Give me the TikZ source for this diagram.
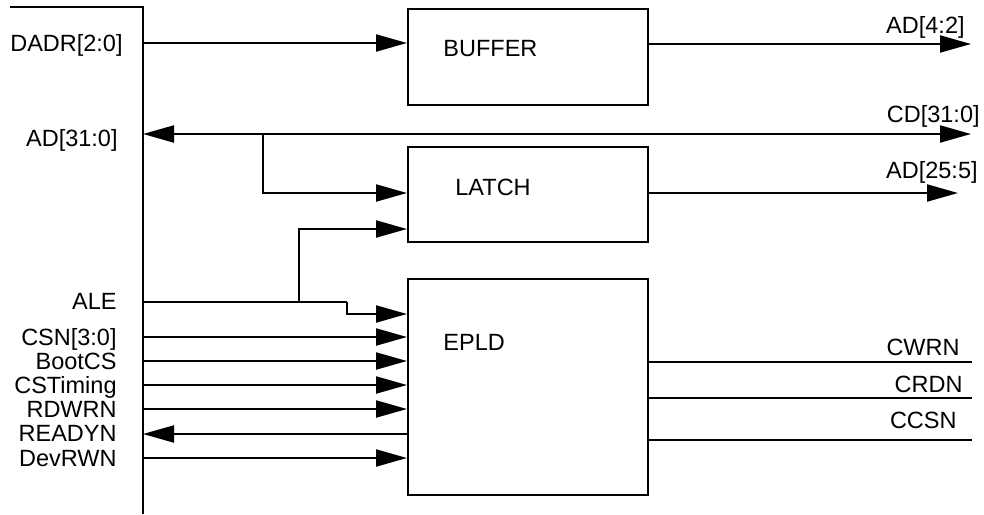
\documentclass[tikz,border=0pt]{standalone}
\usepackage{fontspec}
\setmainfont{Liberation Sans}
\usetikzlibrary{arrows.meta, calc}

\begin{document}
\begin{tikzpicture}[
    x=0.5pt, y=-0.5pt,
    every node/.style={font=\fontsize{11.75}{14}\selectfont, inner sep=0pt, text height=8.4pt, text depth=0pt},
    pin/.style={anchor=east},
    outlbl/.style={anchor=east},
    blk/.style={draw, line width=1pt, minimum width=120pt, anchor=north west},
    wire/.style={line width=1pt},
    arr/.style={wire, -{Triangle[length=15.5pt, width=8.5pt]}},
    biarr/.style={wire, {Triangle[length=15.5pt, width=8.5pt]}-{Triangle[length=15.5pt, width=8.5pt]}},
]
\useasboundingbox (0,0) rectangle (984,514);

% ---------- device edge (left) ----------
\coordinate (edgetop) at (10,7);
\coordinate (edge) at (143,7);
\coordinate (edgeend) at (143,514);
\draw[wire] (edgetop) -- (edge) -- (edgeend);

% ---------- blocks ----------
\node[blk, minimum height=48pt] (buf) at (407,8) {};
\node[anchor=west] (buftxt) at ($(buf.north west)+(36,40)$) {BUFFER};
\node[blk, minimum height=47.5pt] (latch) at (407,146) {};
\node[anchor=west] (latchtxt) at ($(latch.north west)+(48,41)$) {LATCH};
\node[blk, minimum height=108pt] (epld) at (407,278) {};
\node[anchor=west] (epldtxt) at ($(epld.north west)+(36,64)$) {EPLD};

% ---------- address / data ----------
\coordinate (dadr) at (143,43);
\node[pin] (ldadr) at (123,43) {DADR[2:0]};
\draw[arr] (dadr) -- (dadr -| buf.west);

\coordinate (adbus) at (143,134);
\coordinate (cdout) at (971,134);
\node[pin] (lad) at (118,138) {AD[31:0]};
\draw[biarr] (adbus) -- (cdout);
\node[outlbl] (lcd) at (980,114) {CD[31:0]};

\coordinate (adtap) at (263,134);
\coordinate (latchin) at (407,193);
\draw[arr] (adtap) |- (latchin);

% outputs of buffer and latch
\coordinate (adlo) at (971,44);
\draw[arr] (adlo -| buf.east) -- (adlo);
\node[outlbl] (ladlo) at (965,25) {AD[4:2]};
\coordinate (adhi) at (958,193);
\draw[arr] (adhi -| latch.east) -- (adhi);
\node[outlbl] (ladhi) at (978,170) {AD[25:5]};

% ---------- ALE: to latch enable and EPLD ----------
\coordinate (ale) at (143,302);
\coordinate (aletap) at (299,302);
\coordinate (alebend) at (347,302);
\coordinate (aleepld) at (347,314);
\coordinate (latchen) at (407,229);
\node[pin] (lale) at (117,301) {ALE};
\draw[wire] (ale) -- (alebend);
\draw[arr] (alebend) -- (aleepld) -- (aleepld -| epld.west);
\draw[arr] (aletap) |- (latchen);

% ---------- EPLD inputs ----------
\foreach \y/\t [count=\i] in {337/{CSN[3:0]}, 361/BootCS, 385/CSTiming, 409/RDWRN, 458/DevRWN}{
    \coordinate (in\i) at (143,\y);
    \node[pin] (lin\i) at (117,\y) {\t};
    \draw[arr] (in\i) -- (in\i -| epld.west);
}
\coordinate (ready) at (143,434);
\node[pin] (lready) at (117,433) {READYN};
\draw[arr] (ready -| epld.west) -- (ready);

% ---------- EPLD outputs ----------
\foreach \y/\ly/\rx/\t [count=\i] in {362/347/960/CWRN, 398/384/963/CRDN, 440/420/957/CCSN}{
    \coordinate (out\i) at (972,\y);
    \draw[wire] (out\i -| epld.east) -- (out\i);
    \node[outlbl] (lout\i) at (\rx,\ly) {\t};
}

\end{tikzpicture}
\end{document}
